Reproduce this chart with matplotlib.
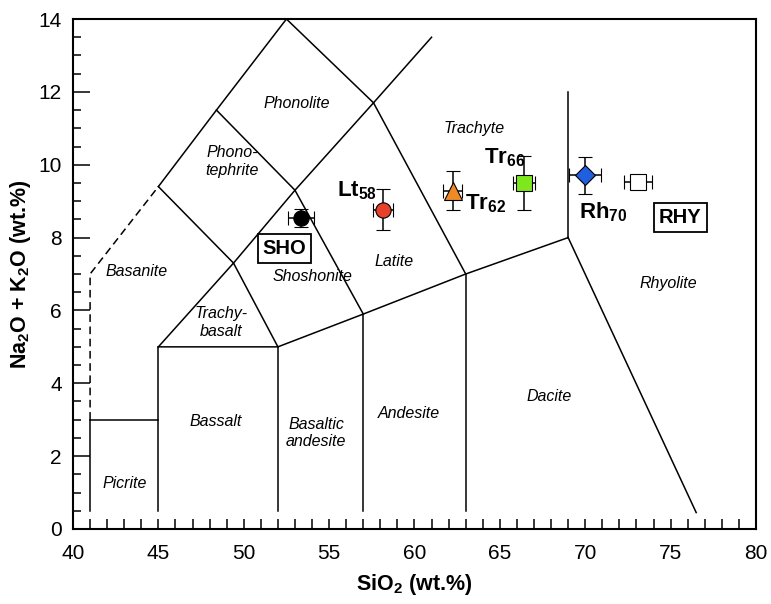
import matplotlib.pyplot as plt
from matplotlib.ticker import MultipleLocator

plt.rcParams['font.family'] = ['Liberation Sans', 'DejaVu Sans']
plt.rcParams['mathtext.fontset'] = 'custom'
plt.rcParams['mathtext.rm'] = 'Liberation Sans'
plt.rcParams['mathtext.it'] = 'Liberation Sans:italic'
plt.rcParams['mathtext.bf'] = 'Liberation Sans:bold'

# TAS field boundaries (SiO2, Na2O+K2O)
solid_lines = [
    [(41, 0.5), (41, 3)],
    [(41, 3), (45, 3)],
    [(45, 0.5), (45, 5)],
    [(52, 0.5), (52, 5)],
    [(57, 0.5), (57, 5.9)],
    [(63, 0.5), (63, 7)],
    [(45, 5), (52, 5), (57, 5.9), (63, 7), (69, 8)],
    [(69, 8), (69, 12)],
    [(69, 8), (76.5, 0.45)],
    [(45, 5), (49.4, 7.3), (52, 5)],
    [(49.4, 7.3), (53, 9.3), (57, 5.9)],
    [(53, 9.3), (57.6, 11.7), (63, 7)],
    [(45, 9.4), (49.4, 7.3)],
    [(45, 9.4), (48.4, 11.5), (52.5, 14), (57.6, 11.7)],
    [(48.4, 11.5), (53, 9.3)],
    [(57.6, 11.7), (61, 13.5)],
]
dashed_line = [(41, 3), (41, 7), (45, 9.4)]

field_names = ['Phonolite', 'Phono-\ntephrite', 'Trachyte', 'Basanite', 'Trachy-\nbasalt',
               'Shoshonite', 'Latite', 'Rhyolite', 'Andesite', 'Dacite',
               'Basaltic\nandesite', 'Bassalt', 'Picrite']
field_x = [53.1, 49.3, 63.5, 43.75, 48.7, 54.05, 58.8, 74.84, 59.67, 67.87, 54.23, 48.37, 43.04]
field_y = [11.69, 10.09, 11.0, 7.08, 5.67, 6.92, 7.33, 6.73, 3.18, 3.65, 2.63, 2.94, 1.26]

# Sample averages with error bars
sio2 = [53.35, 58.17, 62.25, 66.4, 70.0, 73.1]
alk = [8.54, 8.76, 9.29, 9.5, 9.71, 9.53]
sio2_err = [0.76, 0.59, 0.56, 0.63, 0.95, 0.8]
alk_err = [0.25, 0.56, 0.53, 0.75, 0.5, 0.1]
markers = ['o', 'o', '^', 's', 'D', 's']
colors = ['black', '#e8412b', '#f08a24', '#7ee81e', '#1f5fe0', 'white']
sizes = [11, 11, 13, 11, 10, 11]

sample_labels = [r'$\mathbf{Lt}_\mathbf{58}$', r'$\mathbf{Tr}_\mathbf{62}$',
                 r'$\mathbf{Tr}_\mathbf{66}$', r'$\mathbf{Rh}_\mathbf{70}$']
label_x = [55.44, 62.95, 64.06, 69.64]
label_y = [9.12, 8.76, 10.04, 8.53]

fig = plt.figure(figsize=(7.71, 6.04), dpi=100)
ax = fig.add_axes([0.0947, 0.1242, 0.8858, 0.8443])

for seg in solid_lines:
    xs, ys = zip(*seg)
    ax.plot(xs, ys, color='black', lw=1.1, zorder=2)
xs, ys = zip(*dashed_line)
ax.plot(xs, ys, color='black', lw=1.1, ls=(0, (5, 3)), zorder=2)

for name, x, y in zip(field_names, field_x, field_y):
    ax.text(x, y, name, style='italic', fontsize=11.5, ha='center', va='center',
            linespacing=1.2)

for x, y, xe, ye, m, c, s in zip(sio2, alk, sio2_err, alk_err, markers, colors, sizes):
    ax.errorbar(x, y, xerr=xe, yerr=ye, fmt=m, ms=s, mfc=c, mec='black', mew=0.8,
                ecolor='black', elinewidth=1.1, capsize=5, capthick=1.1, zorder=3)

for t, x, y in zip(sample_labels, label_x, label_y):
    ax.text(x, y, t, fontsize=16, ha='left', va='baseline')

box = dict(boxstyle='square,pad=0.25', fc='white', ec='black', lw=1.3)
ax.text(52.39, 7.69, 'SHO', fontsize=14.5, fontweight='bold', ha='center', va='center', bbox=box)
ax.text(75.57, 8.54, 'RHY', fontsize=14.5, fontweight='bold', ha='center', va='center', bbox=box)

ax.set_xlim(40, 80)
ax.set_ylim(0, 14)
ax.xaxis.set_major_locator(MultipleLocator(5))
ax.xaxis.set_minor_locator(MultipleLocator(1))
ax.yaxis.set_major_locator(MultipleLocator(2))
ax.yaxis.set_minor_locator(MultipleLocator(0.5))
ax.tick_params(axis='x', which='both', direction='in', length=7, width=1.1, labelsize=15, pad=11)
ax.tick_params(axis='y', which='major', direction='in', length=12, width=1.1, labelsize=15, pad=8)
ax.tick_params(axis='y', which='minor', direction='in', length=6, width=1.1)
for sp in ax.spines.values():
    sp.set_linewidth(1.5)

ax.set_xlabel(r'SiO$_\mathbf{2}$ (wt.%)', fontsize=15.5, fontweight='bold', labelpad=6)
ax.set_ylabel(r'Na$_\mathbf{2}$O + K$_\mathbf{2}$O (wt.%)', fontsize=15.5, fontweight='bold', labelpad=4)

fig.savefig('out.png', dpi=100)
